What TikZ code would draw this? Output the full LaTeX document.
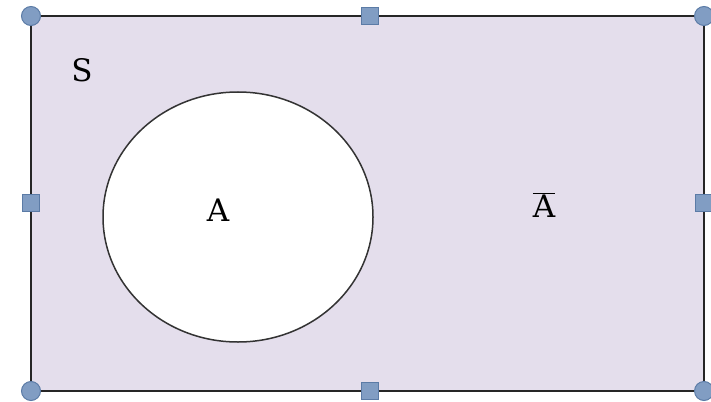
\documentclass[tikz,border=0pt]{standalone}
\usepackage{fontspec}
\setmainfont{DejaVu Serif}
\definecolor{regionfill}{HTML}{E4DEEC}
\definecolor{handlefill}{HTML}{819DC3}
\definecolor{handledraw}{HTML}{5B7BA6}
\tikzset{
  cornerhandle/.style={circle, fill=handlefill, draw=handledraw, line width=1pt, minimum size=19pt, inner sep=0pt},
  edgehandle/.style={rectangle, fill=handlefill, draw=handledraw, line width=1pt, minimum size=17pt, inner sep=0pt},
  lbl/.style={font=\fontsize{31}{36}\selectfont, inner sep=0pt}
}
\begin{document}
\begin{tikzpicture}[x=1pt,y=-1pt]
\useasboundingbox (0,0) rectangle (711,401);
\draw[fill=regionfill, draw=black!85, line width=2pt] (31,16) rectangle (704,391);
\draw[fill=white, draw=black!80, line width=1.5pt] (238,217) ellipse [x radius=135, y radius=125];
\node[lbl] (S) at (82,70) {S};
\node[lbl] (A) at (218,210) {A};
\node[lbl] (Ac) at (544,205) {$\overline{\mbox{A}}$};
\node[cornerhandle] (h1) at (31,16) {};
\node[cornerhandle] (h2) at (704,16) {};
\node[cornerhandle] (h3) at (31,391) {};
\node[cornerhandle] (h4) at (704,391) {};
\node[edgehandle] (h5) at (370,16) {};
\node[edgehandle] (h6) at (370,391) {};
\node[edgehandle] (h7) at (31,203) {};
\node[edgehandle] (h8) at (704,203) {};
\end{tikzpicture}
\end{document}
